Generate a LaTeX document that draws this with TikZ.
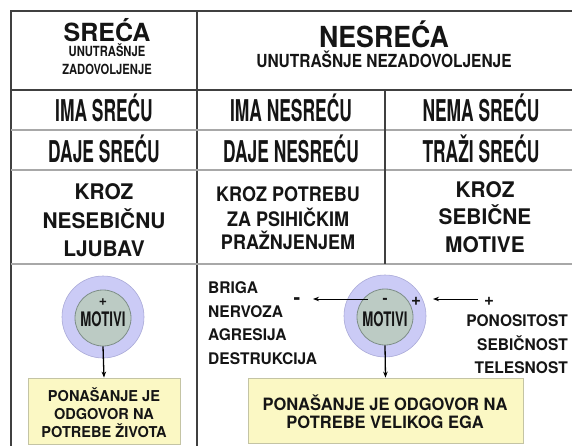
\documentclass[tikz,border=0pt]{standalone}
\usepackage{fontspec}
\setmainfont{texgyreheros-bold.otf}
\newfontfamily\fB{texgyreheros-bold.otf}
\newfontfamily\fN{texgyreheros-bold.otf}[FakeStretch=0.58]
\newfontfamily\fM{texgyreheros-bold.otf}[FakeStretch=0.66]
\newfontfamily\fU{texgyreheros-bold.otf}[FakeStretch=0.80]
\newfontfamily\fH{texgyreheros-bold.otf}[FakeStretch=0.86]
\newfontfamily\fE{texgyreheros-bold.otf}[FakeStretch=0.92]
\newfontfamily\fP{texgyreheros-bold.otf}[FakeStretch=0.90]
\newfontfamily\fK{texgyreheros-bold.otf}[FakeStretch=0.97]
\usetikzlibrary{arrows.meta}
\definecolor{darkline}{HTML}{404040}
\definecolor{lightline}{HTML}{A8A8A8}
\definecolor{lav}{HTML}{CBCBF6}
\definecolor{lavline}{HTML}{AAAAD8}
\definecolor{inner}{HTML}{BCCBC4}
\definecolor{innerline}{HTML}{7E8E88}
\definecolor{boxfill}{HTML}{FBF8C4}
\definecolor{boxline}{HTML}{C4C4A4}
\definecolor{ink}{HTML}{151515}
\tikzset{
  dk/.style={draw=darkline, line width=1.6pt},
  lt/.style={draw=lightline, line width=1.2pt},
  txt/.style={inner sep=0pt, anchor=base, text=ink},
  txtw/.style={inner sep=0pt, anchor=base west, text=ink},
  txte/.style={inner sep=0pt, anchor=base east, text=ink},
  outerc/.style={circle, draw=lavline, fill=lav, line width=0.6pt, minimum size=82pt, inner sep=0pt},
  innerc/.style={circle, draw=innerline, fill=inner, line width=0.8pt, minimum size=56pt, inner sep=0pt},
  boxst/.style={draw=boxline, fill=boxfill, line width=0.8pt, inner sep=0pt},
  arr/.style={-{Stealth[length=6pt,width=4.5pt]}, line width=1.3pt, black},
  fBig/.style={font=\fN\fontsize{30}{30}\selectfont},
  fKroz/.style={font=\fK\fontsize{21.5}{21.5}\selectfont},
  fMid/.style={font=\fP\fontsize{20}{20}\selectfont},
  fList/.style={font=\fK\fontsize{16}{16}\selectfont},
  fMot/.style={font=\fM\fontsize{20}{20}\selectfont},
}
\begin{document}
\begin{tikzpicture}[x=1pt,y=-1pt]
\useasboundingbox[fill=white] (0,0) rectangle (572,446);
% table lines
\draw[dk] (11,446) -- (11,11) -- (572,11);
\draw[dk] (197,11) -- (197,446);
\draw[dk] (11,90) -- (572,90);
\draw[lt] (11,130) -- (572,130);
\draw[lt] (11,170) -- (572,170);
\draw[lt] (11,264) -- (572,264);
\draw[dk] (385,90) -- (385,264);
% header
\node[txt, font=\fB\fontsize{25}{25}\selectfont] (h1) at (107,42) {SREĆA};
\node[txt, font=\fU\fontsize{14}{14}\selectfont] (h1a) at (107,57) {UNUTRAŠNJE};
\node[txt, font=\fU\fontsize{14}{14}\selectfont] (h1b) at (107,75) {ZADOVOLJENJE};
\node[txt, font=\fE\fontsize{29}{29}\selectfont] (h2) at (384,48) {NESREĆA};
\node[txt, font=\fH\fontsize{18}{18}\selectfont] (h2a) at (384,68) {UNUTRAŠNJE NEZADOVOLJENJE};
% rows
\node[txt, fBig] (r1a) at (104,122) {IMA SREĆU};
\node[txt, fBig] (r1b) at (291,122) {IMA NESREĆU};
\node[txt, fBig] (r1c) at (481,122) {NEMA SREĆU};
\node[txt, fBig] (r2a) at (104,163) {DAJE SREĆU};
\node[txt, fBig] (r2b) at (291,163) {DAJE NESREĆU};
\node[txt, fBig] (r2c) at (481,163) {TRAŽI SREĆU};
% kroz row
\node[txt, fKroz] (k1a) at (104,200) {KROZ};
\node[txt, fKroz] (k1b) at (104,228) {NESEBIČNU};
\node[txt, fKroz] (k1c) at (104,256) {LJUBAV};
\node[txt, fMid] (k2a) at (288,202) {KROZ POTREBU};
\node[txt, fMid] (k2b) at (288,226) {ZA PSIHIČKIM};
\node[txt, fMid] (k2c) at (288,249) {PRAŽNJENJEM};
\node[txt, fKroz] (k3a) at (485,198) {KROZ};
\node[txt, fKroz] (k3b) at (485,225) {SEBIČNE};
\node[txt, fKroz] (k3c) at (485,252) {MOTIVE};
% left circle
\node[outerc] (oc1) at (103,317) {};
\node[innerc] (ic1) at (103,318) {};
\node[txt, font=\fB\fontsize{14}{14}\selectfont] (p1) at (103,305) {+};
\node[txt, fMot] (m1) at (103,326) {MOTIVI};
% right circle
\node[outerc] (oc2) at (385,316) {};
\node[innerc] (ic2) at (385,317) {};
\node[txt, fMot] (m2) at (385,326) {MOTIVI};
\node[txt, font=\fB\fontsize{15}{15}\selectfont] (mi2) at (385,303.3) {-};
\node[txt, font=\fB\fontsize{17}{17}\selectfont] (pi2) at (416,305) {+};
\node[txt, font=\fB\fontsize{20}{20}\selectfont] (mo2) at (297,304.7) {-};
\node[txt, font=\fB\fontsize{17}{17}\selectfont] (po2) at (489,305) {+};
\coordinate (la1) at (368,299);
\coordinate (la2) at (313,299);
\coordinate (ra1) at (478,299);
\coordinate (ra2) at (433,299);
\draw[arr, line width=1pt] (la1) -- (la2);
\draw[arr, line width=1pt] (ra1) -- (ra2);
% lists
\node[txtw, fList] (l1) at (208,293) {BRIGA};
\node[txtw, fList] (l2) at (208,317) {NERVOZA};
\node[txtw, fList] (l3) at (208,340) {AGRESIJA};
\node[txtw, fList] (l4) at (208,364) {DESTRUKCIJA};
\node[txte, fList] (q1) at (568,326) {PONOSITOST};
\node[txte, fList] (q2) at (568,350) {SEBIČNOST};
\node[txte, fList] (q3) at (568,373) {TELESNOST};
% boxes
\node[boxst, minimum width=152pt, minimum height=66pt] (b1) at (104,411) {};
\node[boxst, minimum width=275pt, minimum height=65pt] (b2) at (385.5,410.5) {};
\draw[arr] (ic1.south) -- (b1.north);
\draw[arr] (ic2.south) -- (b2.north);
\node[txt, font=\fK\fontsize{15}{15}\selectfont] (b1a) at (104,401) {PONAŠANJE JE};
\node[txt, font=\fK\fontsize{15}{15}\selectfont] (b1b) at (104,419) {ODGOVOR NA};
\node[txt, font=\fK\fontsize{15}{15}\selectfont] (b1c) at (104,437) {POTREBE ŽIVOTA};
\node[txt, font=\fK\fontsize{17}{17}\selectfont] (b2a) at (385,410) {PONAŠANJE JE ODGOVOR NA};
\node[txt, font=\fK\fontsize{17}{17}\selectfont] (b2b) at (385,428) {POTREBE VELIKOG EGA};
\end{tikzpicture}
\end{document}
